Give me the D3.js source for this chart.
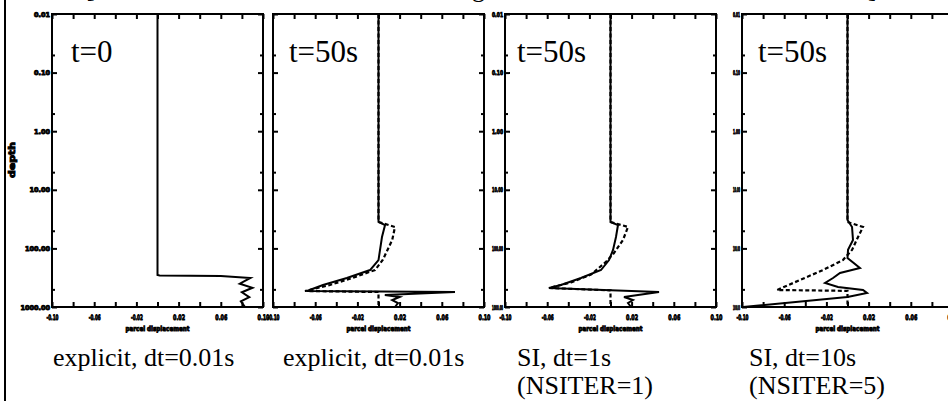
<!DOCTYPE html>
<html>
<head>
<meta charset="utf-8">
<script src="https://cdn.jsdelivr.net/npm/d3@7"></script>
<style>
body { margin: 0; background: #fff; }
svg { display: block; }
</style>
</head>
<body>
<div id="chart"></div>
<script>
// depth axis (log), displacement axis
const depthTicks = [0.01, 0.1, 1, 10, 100, 1000];
const depthTickLabels = ["0.01", "0.10", "1.00", "10.00", "100.00", "1000.00"];
const depthMinorTicks = [0.05, 0.5, 5, 50, 500];
const dispTicks = [-0.1, -0.08, -0.06, -0.04, -0.02, 0, 0.02, 0.04, 0.06, 0.08, 0.1];
const dispLabelTicks = [-0.1, -0.06, -0.02, 0.02, 0.06, 0.1];
const dispTickLabels = ["-0.10", "-0.06", "-0.02", "0.02", "0.06", "0.10"];

const panelTimes = ["t=0", "t=50s", "t=50s", "t=50s"];
const panelCaptions = [
	["explicit, dt=0.01s"],
	["explicit, dt=0.01s"],
	["SI, dt=1s", "(NSITER=1)"],
	["SI, dt=10s", "(NSITER=5)"]
];

// profiles: [displacement, depth]
const t0Solid = [[0, 0.01], [0, 284], [0.002, 290], [0.06, 296], [0.088, 320], [0.078, 400],
	[0.09, 470], [0.08, 560], [0.087, 680], [0.079, 800], [0.083, 1000]];

const explicitSolid = [[0, 0.01], [0, 35.4], [0.0062, 39.9], [0.0033, 63.9], [0, 158], [-0.008, 234],
	[-0.03, 320], [-0.0526, 421], [-0.0678, 533], [0.0725, 555], [0.006, 624], [0.02, 675],
	[0.013, 760], [0.0185, 855], [0.0156, 1000]];
const explicitDashed = [[0, 0.01], [0, 35.4], [0.0156, 43.1], [0.013, 71.9], [0.004, 158], [-0.0033, 234],
	[-0.025, 320], [-0.046, 421], [-0.0697, 533], [0, 555], [0, 1000]];

const si1Solid = [[0, 0.01], [0, 35.4], [0.0071, 39.9], [0.0052, 63.9], [0.0024, 106], [-0.0014, 158],
	[-0.009, 234], [-0.028, 320], [-0.047, 421], [-0.0583, 474], [0.046, 555], [0.0128, 675],
	[0.0213, 760], [0.0166, 855], [0.0194, 1000]];
const si1Dashed = [[0, 0.01], [0, 35.4], [0.0166, 43.1], [0.0118, 71.9], [0.0033, 120], [-0.0043, 170],
	[-0.0185, 280], [-0.0374, 380], [-0.0583, 474], [0, 520], [0, 1000]];

const si10Solid = [[0, 0.01], [0, 32.7], [0.0043, 43.1], [0.0052, 71.9], [0.0005, 106], [0, 146],
	[0.0118, 216], [-0.0071, 263], [-0.0137, 320], [-0.0213, 389], [-0.009, 456], [0.0147, 513],
	[0.0185, 577], [0, 675], [-0.099, 1000]];
const si10Dashed = [[0, 0.01], [0, 35.4], [0.0147, 43.1], [0.01, 63.9], [0.0043, 106], [-0.0043, 158],
	[-0.0232, 234], [-0.045, 346], [-0.0668, 513], [0, 530], [0, 1000]];

const panelSolid = [t0Solid, explicitSolid, si1Solid, si10Solid];
const panelDashed = [null, explicitDashed, si1Dashed, si10Dashed];

(function() {

const width = 948, height = 401;
const svg = d3.select("div#chart").append("svg")
	.attr("width", width)
	.attr("height", height);

const serif = "Liberation Serif, DejaVu Serif, serif";
const sans = "DejaVu Sans, sans-serif";

// layout
const panelLeft = [52, 273, 505, 742];
const panelW = 211;
const top = 14, bottom = 307;
const timeOffset = [19, 16, 12, 16];
const captionOffset = [1, 10, 12, 7];
// y label style per panel: full, none, squeezed widths
const yLabelMode = ["full", "none", 11, 7];

// left border of the page
svg.append("line")
	.attr("x1", 5).attr("x2", 5).attr("y1", 0).attr("y2", height)
	.attr("stroke", "#000").attr("stroke-width", 2);

// cut bits of the line above
[["[", 86], ["g", 472], ["]", 868]].forEach(function(c) {
	svg.append("text").attr("x", c[1]).attr("y", -3)
		.attr("font-family", serif).attr("font-size", 26).text(c[0]);
});

const y = d3.scaleLog().domain([0.01, 1000]).range([top, bottom]);

function styleAxis(g) {
	g.select(".domain").remove();
	g.selectAll(".tick line").attr("stroke", "#000").attr("stroke-width", 2);
}

function blob(sel) {
	sel.attr("font-family", sans).attr("font-weight", "bold")
		.attr("stroke", "#000").attr("stroke-width", 0.9).attr("fill", "#000");
}

panelSolid.forEach(function(solid, i) {
	const left = panelLeft[i], right = left + panelW;
	const x = d3.scaleLinear().domain([-0.1, 0.1]).range([left, right]);
	const g = svg.append("g");

	const line = d3.line()
		.x(function(d) { return x(d[0]); })
		.y(function(d) { return y(d[1]); });

	if (panelDashed[i]) {
		g.append("path")
			.attr("d", line(panelDashed[i]))
			.attr("fill", "none")
			.attr("stroke", "#000")
			.attr("stroke-width", 2.2)
			.attr("stroke-dasharray", "4,2.5");
	}
	g.append("path")
		.attr("d", line(solid))
		.attr("fill", "none")
		.attr("stroke", "#000")
		.attr("stroke-width", 2);

	// frame
	g.append("rect")
		.attr("x", left).attr("y", top)
		.attr("width", panelW).attr("height", bottom - top)
		.attr("fill", "none").attr("stroke", "#000").attr("stroke-width", 2);

	// x ticks top and bottom (inward)
	g.append("g").attr("transform", "translate(0," + bottom + ")")
		.call(d3.axisBottom(x).tickValues(dispTicks).tickSizeInner(-5).tickSizeOuter(0).tickFormat(""))
		.call(styleAxis);
	g.append("g").attr("transform", "translate(0," + top + ")")
		.call(d3.axisTop(x).tickValues(dispTicks).tickSizeInner(-5).tickSizeOuter(0).tickFormat(""))
		.call(styleAxis);

	// x labels
	const xl = g.append("g").attr("transform", "translate(0," + bottom + ")")
		.call(d3.axisBottom(x).tickValues(dispLabelTicks).tickSize(0).tickPadding(8)
			.tickFormat(function(d, k) { return dispTickLabels[k]; }))
		.call(styleAxis);
	xl.selectAll("text").call(blob)
		.attr("font-size", 7.5)
		.attr("textLength", 12).attr("lengthAdjust", "spacingAndGlyphs");

	g.append("text")
		.attr("x", (left + right) / 2).attr("y", 331)
		.attr("text-anchor", "middle")
		.call(blob)
		.attr("font-size", 7)
		.attr("textLength", 64).attr("lengthAdjust", "spacingAndGlyphs")
		.text("parcel displacement");

	// y ticks left and right (inward)
	[[d3.axisLeft, left], [d3.axisRight, right]].forEach(function(a) {
		g.append("g").attr("transform", "translate(" + a[1] + ",0)")
			.call(a[0](y).tickValues(depthTicks).tickSizeInner(-5).tickSizeOuter(0).tickFormat(""))
			.call(styleAxis);
		g.append("g").attr("transform", "translate(" + a[1] + ",0)")
			.call(a[0](y).tickValues(depthMinorTicks).tickSizeInner(-3).tickSizeOuter(0).tickFormat(""))
			.call(styleAxis);
	});

	// y labels
	const mode = yLabelMode[i];
	if (mode !== "none") {
		const yl = g.append("g").attr("transform", "translate(" + left + ",0)")
			.call(d3.axisLeft(y).tickValues(depthTicks).tickSize(0).tickPadding(2)
				.tickFormat(function(d, k) { return depthTickLabels[k]; }))
			.call(styleAxis);
		yl.selectAll("text").call(blob).attr("font-size", 6.5);
		if (mode !== "full") {
			yl.selectAll("text")
				.attr("textLength", mode).attr("lengthAdjust", "spacingAndGlyphs");
		}
	}

	// time label
	g.append("text")
		.attr("x", left + timeOffset[i]).attr("y", 62)
		.attr("font-family", serif).attr("font-size", 31)
		.text(panelTimes[i]);

	// caption
	panelCaptions[i].forEach(function(c, k) {
		g.append("text")
			.attr("x", left + captionOffset[i]).attr("y", 366 + k * 28)
			.attr("font-family", serif).attr("font-size", 26)
			.text(c);
	});
});

// y axis title
svg.append("text")
	.attr("transform", "translate(15,160) rotate(-90)")
	.attr("text-anchor", "middle")
	.call(blob)
	.attr("font-size", 8)
	.attr("textLength", 36).attr("lengthAdjust", "spacingAndGlyphs")
	.text("depth");

})();
</script>
</body>
</html>
